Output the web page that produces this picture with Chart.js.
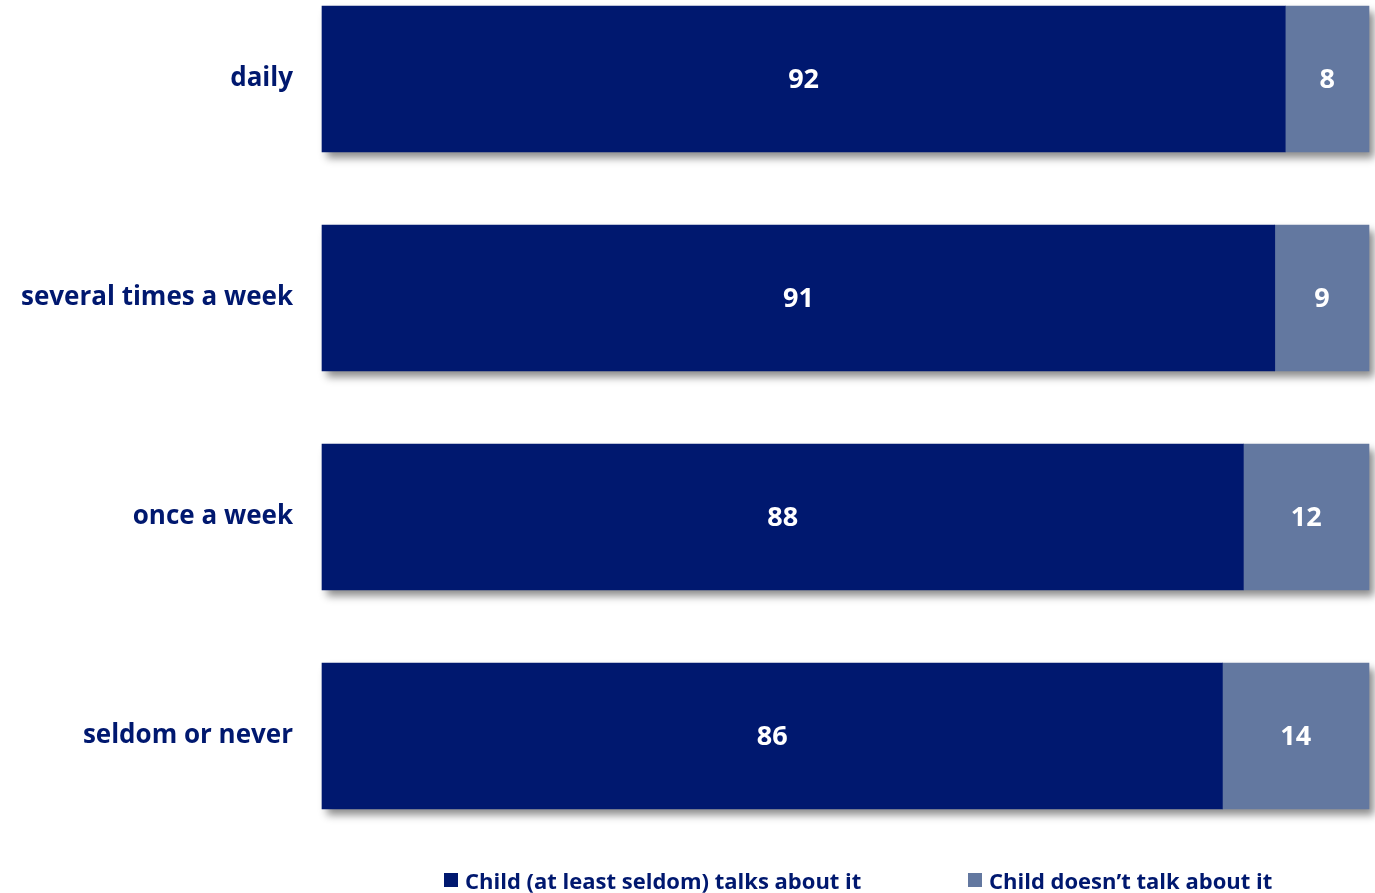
<!DOCTYPE html>
<html>
<head>
<meta charset="utf-8">
<script src="https://cdn.jsdelivr.net/npm/chart.js@4/dist/chart.umd.min.js"></script>
<style>
  body { margin: 0; background: #fff; }
  #wrap { position: relative; width: 1375px; height: 893px; }
  #legend { position: absolute; left: 444px; top: 865px; display: flex; font-family: "Open Sans", sans-serif; font-weight: bold; font-size: 22px; color: #00186f; }
  .item { display: flex; align-items: center; width: 524px; white-space: nowrap; }
  .box { width: 14px; height: 14px; margin-right: 7px; }
</style>
</head>
<body>
<div id="wrap">
  <canvas id="chart" width="1375" height="893"></canvas>
  <div id="legend"></div>
</div>
<script>
const kategori = ["daily", "several times a week", "once a week", "seldom or never"];
const namaSeri = ["Child (at least seldom) talks about it", "Child doesn\u2019t talk about it"];
const bicara = [92, 91, 88, 86];
const tidakBicara = [8, 9, 12, 14];
const warna = ["#00186f", "#6378a0"];

// Bayangan di bawah tiap batang tumpuk dan label angka di tengah batang
const bayanganDanLabel = {
    id: "bayanganDanLabel",
    beforeDatasetsDraw(chart) {
        const ctx = chart.ctx;
        ctx.save();
        ctx.shadowColor = "rgba(0,0,0,0.45)";
        ctx.shadowBlur = 8;
        ctx.shadowOffsetX = 5;
        ctx.shadowOffsetY = 6;
        ctx.fillStyle = "#ffffff";
        const metas = chart.data.datasets.map((ds, i) => chart.getDatasetMeta(i));
        kategori.forEach((k, j) => {
            const bars = metas.map((m) => m.data[j]);
            const kiri = Math.min(...bars.map((b) => Math.min(b.x, b.base)));
            const kanan = Math.max(...bars.map((b) => Math.max(b.x, b.base)));
            const b0 = bars[0];
            ctx.fillRect(kiri, b0.y - b0.height / 2, kanan - kiri, b0.height);
        });
        ctx.restore();
    },
    afterDatasetsDraw(chart) {
        const ctx = chart.ctx;
        ctx.save();
        ctx.fillStyle = "#ffffff";
        ctx.font = "bold 27px 'Open Sans', sans-serif";
        ctx.textAlign = "center";
        ctx.textBaseline = "middle";
        chart.data.datasets.forEach((ds, i) => {
            chart.getDatasetMeta(i).data.forEach((bar, j) => {
                const p = bar.getCenterPoint();
                ctx.fillText(ds.data[j], p.x, p.y + 1);
            });
        });
        ctx.restore();
    }
};

const ctx = document.getElementById("chart").getContext("2d");
new Chart(ctx, {
    type: "bar",
    data: {
        labels: kategori,
        datasets: [
            { label: namaSeri[0], data: bicara, backgroundColor: warna[0] },
            { label: namaSeri[1], data: tidakBicara, backgroundColor: warna[1] }
        ]
    },
    options: {
        indexAxis: "y",
        responsive: false,
        animation: false,
        layout: { padding: { left: 0, right: 6, top: 79, bottom: 157 } },
        datasets: { bar: { barThickness: 146, clip: false } },
        plugins: { legend: { display: false }, tooltip: { enabled: false } },
        scales: {
            x: { display: false, stacked: true, min: 0, max: 100 },
            y: {
                stacked: true,
                offset: false,
                grid: { display: false },
                border: { display: false },
                ticks: {
                    autoSkip: false,
                    padding: 21,
                    color: "#00186f",
                    font: { family: "'Open Sans', sans-serif", weight: "bold", size: 26 }
                },
                afterFit(scale) { scale.width = 322; }
            }
        }
    },
    plugins: [bayanganDanLabel]
});

// Legenda di bawah grafik
const legend = document.getElementById("legend");
namaSeri.forEach((nama, i) => {
    legend.innerHTML += `<div class="item"><span class="box" style="background:${warna[i]}"></span>${nama}</div>`;
});
</script>
</body>
</html>
